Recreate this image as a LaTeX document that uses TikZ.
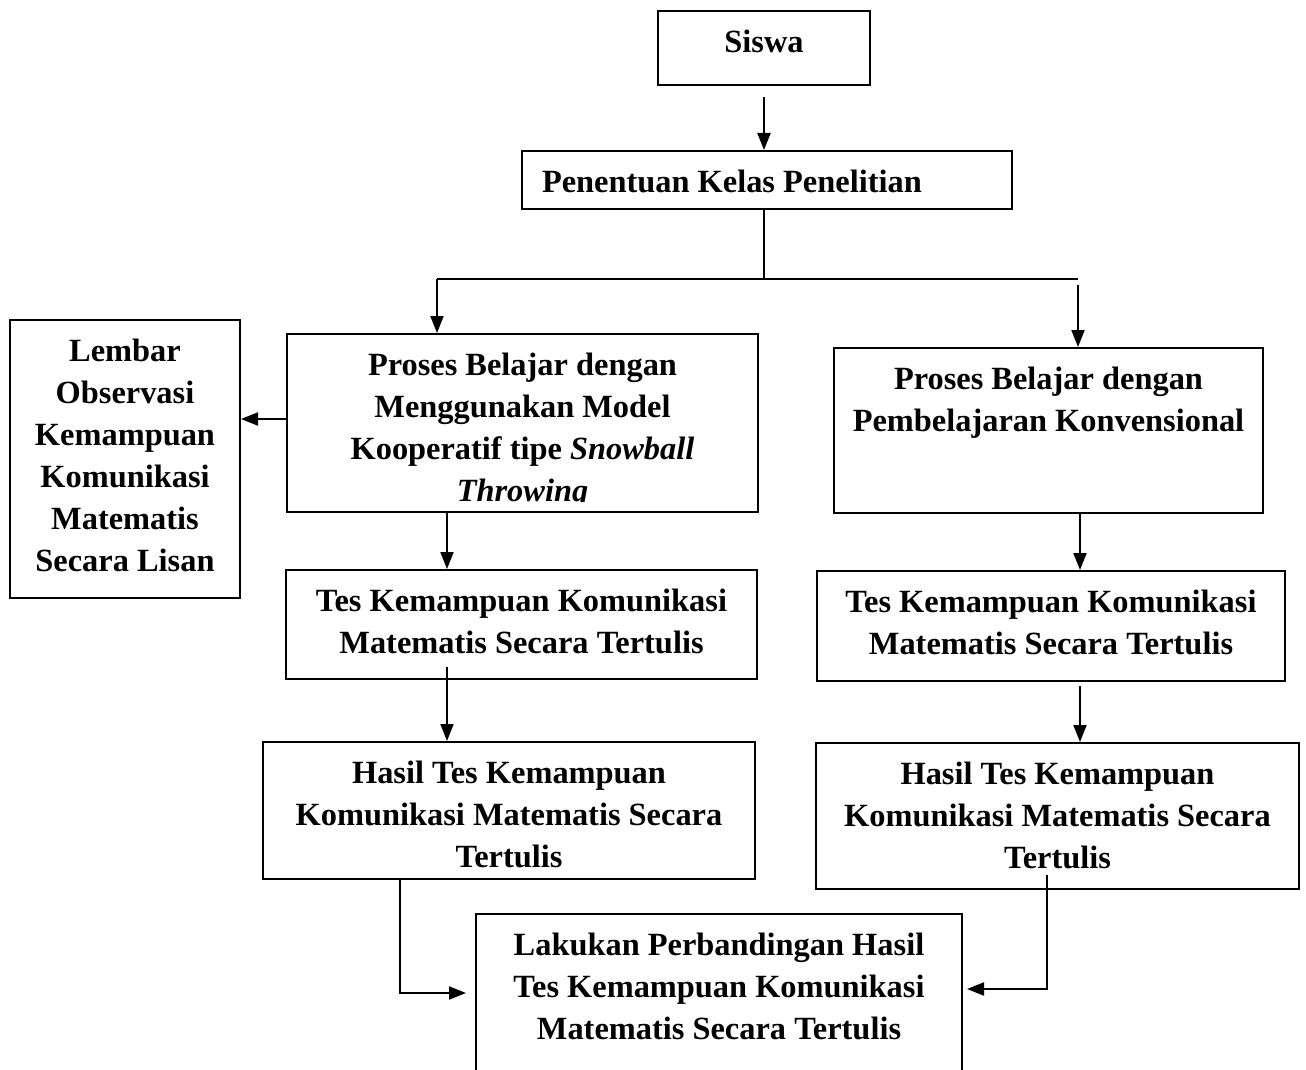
\documentclass[tikz,border=0pt]{standalone}
\usepackage{fontspec}
\setmainfont{Liberation Serif}
\usetikzlibrary{arrows.meta,calc}
\newlength{\pxu}
\setlength{\pxu}{0.5pt}

\begin{document}
\begin{tikzpicture}[x=0.5pt,y=-0.5pt,
		box/.style={draw,line width=1pt,inner sep=0pt,anchor=north west,
			font=\bfseries\fontsize{16.2pt}{21pt}\selectfont},
		link/.style={line width=1pt},
		arr/.style={line width=1pt,-{Triangle[length=8.5pt,width=6.5pt]}}]
		\newcommand{\btext}[3]{\parbox[c][#2\pxu][t]{#1\pxu}{\centering\vspace*{12\pxu}\strut#3}}
		\useasboundingbox (0,0) rectangle (1306,1070);
		\node[box] (siswa) at (657,10) {\btext{212}{74}{Siswa}};
		\node[box] (penentuan) at (521,150) {\btext{490}{58}{\raggedright\hspace*{20\pxu}Penentuan Kelas Penelitian}};
		\node[box] (proses1) at (286,333) {\btext{471}{178}{Proses Belajar dengan\\Menggunakan Model\\Kooperatif tipe \textit{Snowball}\\\textit{Throwing}}};
		\node[box] (lembar) at (9,319) {\btext{230}{278}{Lembar\\Observasi\\Kemampuan\\Komunikasi\\Matematis\\Secara Lisan}};
		\node[box] (tes1) at (285,569) {\btext{471}{109}{Tes Kemampuan Komunikasi\\Matematis Secara Tertulis}};
		\node[box] (hasil1) at (262,741) {\btext{492}{137}{Hasil Tes Kemampuan\\Komunikasi Matematis Secara\\Tertulis}};
		\node[box] (proses2) at (833,347) {\btext{429}{165}{Proses Belajar dengan\\Pembelajaran Konvensional}};
		\node[box] (tes2) at (816,570) {\btext{468}{110}{Tes Kemampuan Komunikasi\\Matematis Secara Tertulis}};
		\node[box] (hasil2) at (815,742) {\btext{483}{146}{Hasil Tes Kemampuan\\Komunikasi Matematis Secara\\Tertulis}};
		\node[box] (lakukan) at (475,913) {\btext{486}{170}{Lakukan Perbandingan Hasil\\Tes Kemampuan Komunikasi\\Matematis Secara Tertulis}};
		\fill[white] ($(proses1.south west)+(2,-11)$) rectangle ($(proses1.south east)+(-2,-2)$);
		\coordinate (lft) at (437,279);
		\coordinate (rgt) at (1078,279);
		\coordinate (xl) at (447,0);
		\coordinate (xr) at (1080,0);
		\coordinate (t1) at (447,667);
		\coordinate (t2) at (1080,686);
		\coordinate (cl) at (400,993);
		\coordinate (cr) at (1047,989);
		\coordinate (h2) at (1047,875);
		\coordinate (pw) at ($(proses1.west)+(0,-4)$);
		\draw[arr] ([yshift=-5.5pt]siswa.south) -- (siswa.south |- penentuan.north);
		\draw[link] (siswa.south |- penentuan.south) -- (siswa.south |- lft);
		\draw[link] (lft) -- (rgt);
		\draw[arr] (lft) -- (lft |- proses1.north);
		\draw[arr] ([yshift=-3pt]rgt) -- (rgt |- proses2.north);
		\draw[arr] (pw) -- (pw -| lembar.east);
		\draw[arr] (proses1.south -| xl) -- (tes1.north -| xl);
		\draw[arr] (t1) -- (t1 |- hasil1.north);
		\draw[arr] (proses2.south -| xr) -- (tes2.north -| xr);
		\draw[arr] (t2) -- (t2 |- hasil2.north);
		\draw[arr,shorten >=4.5pt] (hasil1.south -| cl) -- (cl) -- (cl -| lakukan.west);
		\draw[arr,shorten >=2pt] (h2) -- (cr) -- (cr -| lakukan.east);
\end{tikzpicture}
\end{document}
